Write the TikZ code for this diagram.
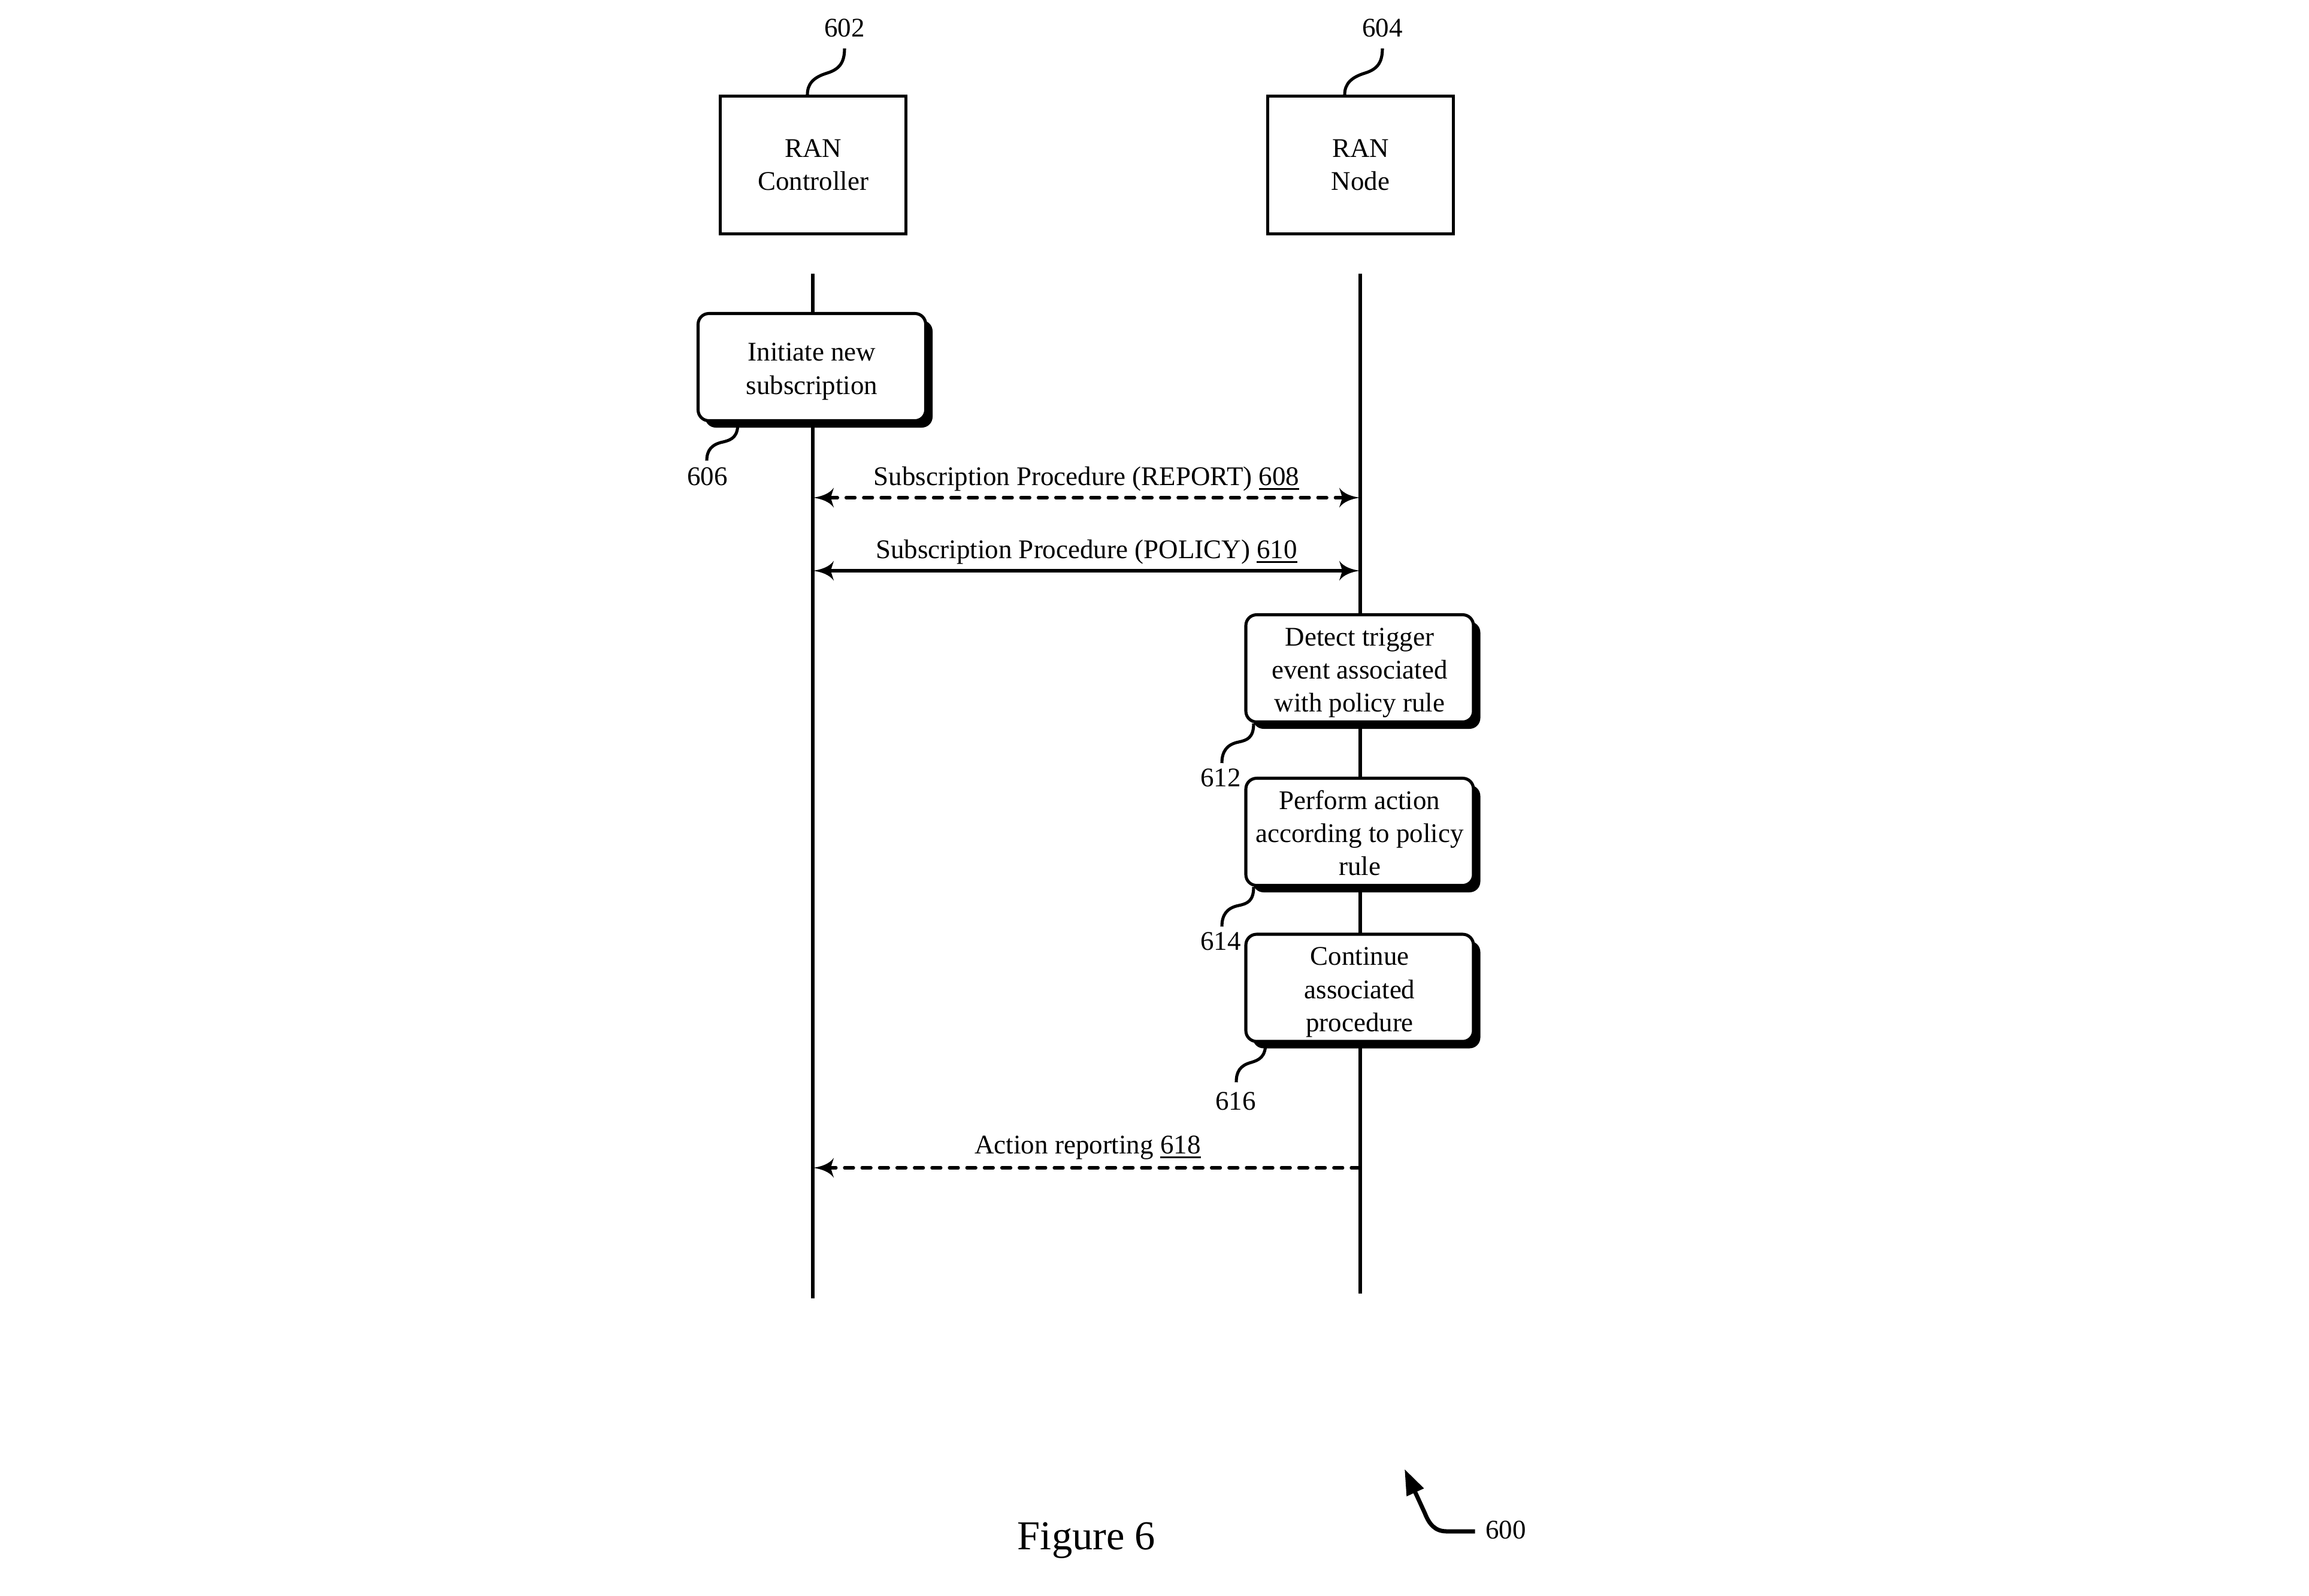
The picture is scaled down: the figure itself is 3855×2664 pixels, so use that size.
\documentclass[tikz,border=0pt]{standalone}
\usepackage{fontspec}
\setmainfont{Liberation Serif}
\usetikzlibrary{arrows.meta,shadows}
\newcommand{\bodyfont}{\fontsize{12.8pt}{15.7pt}\selectfont}
\newcommand{\figfont}{\fontsize{19.5pt}{23pt}\selectfont}
\newcommand{\ulnum}[1]{\setbox0=\hbox{#1}\rlap{\rule[-2.4pt]{\wd0}{1.1pt}}\box0}
\newcommand{\topstrut}{\rule{0pt}{13pt}}
\newcommand{\botstrut}{\rule[-3pt]{0pt}{3pt}}
\pgfdeclarearrow{
  name = Concave,
  parameters = {\the\pgfarrowlength,\the\pgfarrowwidth},
  setup code = {
    \pgfarrowssettipend{0pt}
    \pgfarrowssetlineend{-0.75\pgfarrowlength}
    \pgfarrowsupperhullpoint{0pt}{0pt}
    \pgfarrowsupperhullpoint{-\pgfarrowlength}{0.5\pgfarrowwidth}
    \pgfarrowssavethe\pgfarrowlength
    \pgfarrowssavethe\pgfarrowwidth
  },
  drawing code = {
    \pgfpathmoveto{\pgfqpoint{0pt}{0pt}}
    \pgfpathcurveto{\pgfqpoint{-0.4\pgfarrowlength}{0.05\pgfarrowwidth}}{\pgfqpoint{-0.8\pgfarrowlength}{0.2\pgfarrowwidth}}{\pgfqpoint{-\pgfarrowlength}{0.5\pgfarrowwidth}}
    \pgfpathlineto{\pgfqpoint{-0.85\pgfarrowlength}{0pt}}
    \pgfpathlineto{\pgfqpoint{-\pgfarrowlength}{-0.5\pgfarrowwidth}}
    \pgfpathcurveto{\pgfqpoint{-0.8\pgfarrowlength}{-0.2\pgfarrowwidth}}{\pgfqpoint{-0.4\pgfarrowlength}{-0.05\pgfarrowwidth}}{\pgfqpoint{0pt}{0pt}}
    \pgfpathclose
    \pgfusepathqfill
  },
  defaults = {length=10pt, width=10pt}
}
\tikzset{
  cvt/.tip={Concave[length=10pt,width=9.5pt]},
  hdrbox/.style={draw, line width=1.45pt, minimum width=31mm, minimum height=23mm,
    align=center, inner sep=0pt, font=\bodyfont},
  procbox/.style={draw, fill=white, rounded corners=1.8mm, line width=1.45pt,
    minimum width=38mm, minimum height=17.9mm, align=center, inner sep=0pt,
    font=\bodyfont,
    drop shadow={shadow xshift=1.15mm, shadow yshift=-1.15mm, fill=black, opacity=1}},
  refnum/.style={inner sep=0pt, font=\bodyfont},
  leader/.style={line width=1.45pt},
  lifeline/.style={line width=1.45pt},
  msgdash/.style={line width=1.45pt, dash pattern=on 4.3pt off 4pt, line cap=round},
  msgsolid/.style={line width=1.7pt},
  msglabel/.style={anchor=base, inner sep=0pt, font=\bodyfont},
}
\begin{document}
\begin{tikzpicture}[x=0.1mm, y=-0.1mm]
\useasboundingbox (0,0) rectangle (3855,2664);

% lifelines
\coordinate (ltop) at (1357,457);
\coordinate (lbot) at (1357,2168);
\coordinate (rtop) at (2271,457);
\coordinate (rbot) at (2271,2160);
\draw[lifeline] (ltop) -- (lbot);
\draw[lifeline] (rtop) -- (rbot);

% header boxes
\node[hdrbox] (ctrl) at (1357.5,275.5) {RAN\\Controller};
\node[hdrbox] (ranode) at (2271.5,275.5) {RAN\\Node};
\node[refnum] (n602) at (1410,47) {602};
\node[refnum] (n604) at (2308,47) {604};
\draw[leader] ([yshift=-1.8mm]n602.south) .. controls (1410,106) and (1400,116) .. (1381,122)
  .. controls (1358,129) and (1348,140) .. ([xshift=-0.95mm]ctrl.north);
\draw[leader] ([yshift=-1.8mm]n604.south) .. controls (2308,106) and (2298,116) .. (2279,122)
  .. controls (2256,129) and (2245,140) .. ([xshift=-2.65mm]ranode.north);

% process boxes
\node[procbox] (init) at (1355.5,613) {\topstrut Initiate new\\subscription\botstrut};
\node[procbox] (detect) at (2270,1116) {\topstrut Detect trigger\\event associated\\with policy rule\botstrut};
\node[procbox] (perform) at (2270,1389) {\topstrut Perform action\\according to policy\\rule\botstrut};
\node[procbox] (cont) at (2270,1649.5) {\topstrut Continue\\associated\\procedure\botstrut};

\node[refnum] (n606) at (1181,796) {606};
\node[refnum] (n612) at (2038,1299) {612};
\node[refnum] (n614) at (2038,1572) {614};
\node[refnum] (n616) at (2063,1839) {616};

\draw[leader] ([xshift=-12.35mm]init.south) .. controls (1232,728) and (1224,734) .. (1207,738)
  .. controls (1188,742) and (1180,752) .. ([xshift=-0.1mm,yshift=1.1mm]n606.north);
\draw[leader] ([xshift=-17.7mm]detect.south) .. controls (2093,1232) and (2082,1236) .. (2068,1239)
  .. controls (2048,1243) and (2040,1255) .. ([xshift=0.2mm,yshift=0.9mm]n612.north);
\draw[leader] ([xshift=-17.7mm]perform.south) .. controls (2093,1505) and (2082,1509) .. (2068,1512)
  .. controls (2048,1516) and (2040,1528) .. ([xshift=0.2mm,yshift=0.9mm]n614.north);
\draw[leader] ([xshift=-15.7mm]cont.south) .. controls (2113,1765) and (2102,1770) .. (2089,1774)
  .. controls (2070,1779) and (2064,1790) .. ([xshift=0.1mm,yshift=1.6mm]n616.north);

% messages
\coordinate (l608) at (1357,831);
\coordinate (r608) at (2271,831);
\coordinate (l610) at (1357,953);
\coordinate (r610) at (2271,953);
\coordinate (l618) at (1357,1950);
\coordinate (r618) at (2271,1950);
\draw[msgdash, cvt-cvt] (l608) -- (r608);
\draw[msgsolid, cvt-cvt] (l610) -- (r610);
\draw[msgdash, -cvt] (r618) -- (l618);
\node[msglabel] (t608) at (1814,810) {Subscription Procedure (REPORT) \ulnum{608}};
\node[msglabel] (t610) at (1814,932) {Subscription Procedure (POLICY) \ulnum{610}};
\node[msglabel] (t618) at (1816,1926) {Action reporting \ulnum{618}};

% figure caption and 600
\node[anchor=base, inner sep=0pt, font=\figfont] (fig) at (1814,2587) {Figure 6};
\node[refnum] (n600) at (2514,2555) {600};
\coordinate (tip600) at (2345,2453);
\draw[line width=2pt, -{Triangle[length=12.2pt,width=8.5pt]}]
  ([xshift=-1.7mm,yshift=-0.2mm]n600.west) -- (2415,2557)
  .. controls (2396,2557) and (2386,2545) .. (2379,2527) -- (tip600);
\end{tikzpicture}
\end{document}
